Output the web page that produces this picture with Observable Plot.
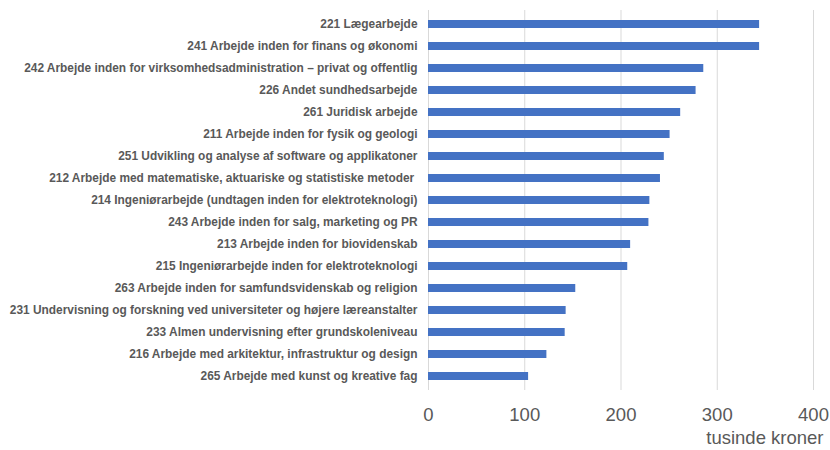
<!DOCTYPE html>
<html><head><meta charset="utf-8">
<script src="https://cdn.jsdelivr.net/npm/d3@7"></script>
<script src="https://cdn.jsdelivr.net/npm/@observablehq/plot@0.6"></script>
<style>
body{margin:0;background:#fff}
g[aria-label="y-axis tick label"], g[aria-label="y-axis tick label"] text {font-family:"Liberation Sans", Arial, sans-serif !important; font-weight:bold; font-size:11.9px;}
g[aria-label="x-axis tick label"], g[aria-label="x-axis tick label"] text, g[aria-label="text"], g[aria-label="text"] text {font-family:"Liberation Sans", Arial, sans-serif !important; font-size:18.5px;}
</style>
</head><body><div id="chart"></div>
<script>
const categories = [
  "221 Lægearbejde",
  "241 Arbejde inden for finans og økonomi",
  "242 Arbejde inden for virksomhedsadministration – privat og offentlig",
  "226 Andet sundhedsarbejde",
  "261 Juridisk arbejde",
  "211 Arbejde inden for fysik og geologi",
  "251 Udvikling og analyse af software og applikatoner",
  "212 Arbejde med matematiske, aktuariske og statistiske metoder ",
  "214 Ingeniørarbejde (undtagen inden for elektroteknologi)",
  "243 Arbejde inden for salg, marketing og PR",
  "213 Arbejde inden for biovidenskab",
  "215 Ingeniørarbejde inden for elektroteknologi",
  "263 Arbejde inden for samfundsvidenskab og religion",
  "231 Undervisning og forskning ved universiteter og højere læreanstalter",
  "233 Almen undervisning efter grundskoleniveau",
  "216 Arbejde med arkitektur, infrastruktur og design",
  "265 Arbejde med kunst og kreative fag"
];
const values = [344, 344, 286, 278, 262, 251, 245, 241, 230, 229, 210, 207, 153, 143, 142, 123, 104];
const xTicks = [0, 100, 200, 300, 400];
const xLabel = "tusinde kroner";

const data = categories.map((c, i) => ({occupation: c, value: values[i]}));

const chart = Plot.plot({
  width: 830, height: 450,
  marginLeft: 428, marginRight: 17, marginTop: 10, marginBottom: 60,
  style: {background: "#fff", fontFamily: "Liberation Sans, Arial, sans-serif"},
  x: {domain: [0, 400], ticks: xTicks},
  y: {domain: categories, paddingInner: 0.64, paddingOuter: 0.32},
  marks: [
    Plot.gridX(xTicks, {stroke: "#d9d9d9", strokeOpacity: 1, strokeWidth: 1}),
    Plot.barX(data, {x: "value", y: "occupation", fill: "#4472C4"}),
    Plot.axisY({tickSize: 0, tickPadding: 11, label: null, fontSize: 11.9, fontWeight: "bold", fill: "#595959"}),
    Plot.axisX(xTicks, {tickSize: 0, tickPadding: 17, label: null, fontSize: 18.5, fill: "#595959"}),
    Plot.text([xLabel], {frameAnchor: "bottom-right", dx: 10, dy: 53, textAnchor: "end", fontSize: 18.5, fill: "#595959"})
  ]
});
chart.querySelectorAll("text").forEach(t => t.setAttribute("xml:space", "preserve"));
document.getElementById("chart").append(chart);
</script>
</body></html>
